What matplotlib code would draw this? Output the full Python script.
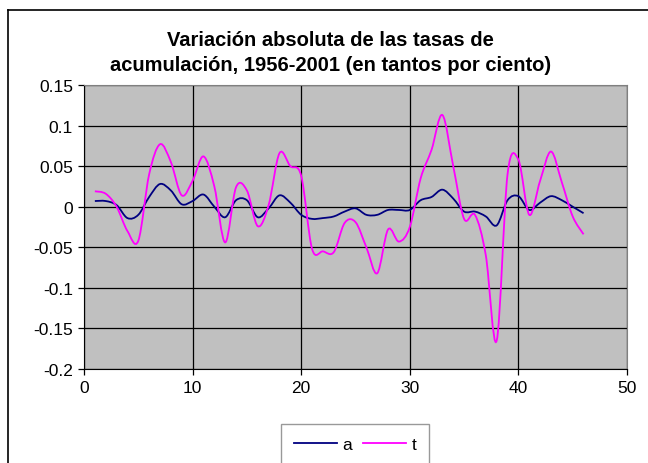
import numpy as np
import matplotlib
matplotlib.use("Agg")
import matplotlib.pyplot as plt
from matplotlib.path import Path
from matplotlib.patches import PathPatch
from matplotlib.lines import Line2D

# years index 1..46 (1956-2001)
years = list(range(1, 47))
a = [0.007, 0.007, 0.002, -0.014, -0.010, 0.012, 0.028, 0.020, 0.003, 0.007,
     0.015, 0.000, -0.013, 0.008, 0.008, -0.013, -0.002, 0.014, 0.005, -0.010,
     -0.015, -0.014, -0.012, -0.006, -0.002, -0.010, -0.010, -0.004, -0.004, -0.004,
     0.008, 0.012, 0.021, 0.010, -0.006, -0.006, -0.012, -0.023, 0.008, 0.013,
     -0.004, 0.005, 0.013, 0.008, 0.000, -0.008]
t = [0.019, 0.016, 0.000, -0.030, -0.042, 0.040, 0.077, 0.055, 0.014, 0.032,
     0.062, 0.025, -0.044, 0.024, 0.020, -0.024, 0.002, 0.066, 0.050, 0.038,
     -0.052, -0.055, -0.056, -0.020, -0.019, -0.050, -0.082, -0.028, -0.043, -0.025,
     0.035, 0.070, 0.113, 0.050, -0.015, -0.010, -0.060, -0.165, 0.040, 0.058,
     -0.010, 0.032, 0.068, 0.030, -0.012, -0.034]

title = "Variación absoluta de las tasas de\nacumulación, 1956-2001 (en tantos por ciento)"

plt.rcParams['font.family'] = ['Liberation Sans', 'DejaVu Sans']


def smooth_path(xs, ys):
    # Excel-like smoothed line: Catmull-Rom segments as cubic Bezier curves
    p = np.column_stack([xs, ys]).astype(float)
    ext = np.vstack([p[0], p, p[-1]])
    verts = [p[0]]
    codes = [Path.MOVETO]
    for i in range(1, len(ext) - 2):
        c1 = ext[i] + (ext[i + 1] - ext[i - 1]) / 6.0
        c2 = ext[i + 1] - (ext[i + 2] - ext[i]) / 6.0
        verts += [c1, c2, ext[i + 1]]
        codes += [Path.CURVE4] * 3
    return Path(verts, codes)


fig = plt.figure(figsize=(6.48, 4.64), dpi=100)
ax = fig.add_axes([84 / 648, 1 - 370 / 464, (627 - 84) / 648, (370 - 86) / 464])
ax.set_facecolor('#C0C0C0')

for xs, ys, col in [(years, a, '#000080'), (years, t, '#FF00FF')]:
    ax.add_patch(PathPatch(smooth_path(xs, ys), facecolor='none',
                           edgecolor=col, lw=1.3, zorder=3))

ax.set_xlim(0, 50)
ax.set_ylim(-0.2, 0.15)
ax.set_xticks(np.arange(0, 51, 10))
ax.set_yticks(np.arange(-0.2, 0.151, 0.05))
ax.set_yticklabels(['-0.2', '-0.15', '-0.1', '-0.05', '0', '0.05', '0.1', '0.15'])
ax.grid(True, color='black', lw=0.9)
ax.set_axisbelow(True)
ax.tick_params(labelsize=12.5, length=4, width=0.9, color='black', pad=4)
for s in ax.spines.values():
    s.set_color('#808080')
ax.spines['left'].set_color('black')
ax.spines['bottom'].set_color('black')

fig.text(0.51, 1 - 53 / 464, title, ha='center', va='center',
         fontsize=14.5, fontweight='bold', linespacing=1.35)

# outer chart frame (cut at right and bottom)
fig.add_artist(Line2D([8 / 648, 8 / 648], [0, 1 - 11 / 464], color='black', lw=1.2,
                      transform=fig.transFigure))
fig.add_artist(Line2D([8 / 648, 1], [1 - 11 / 464, 1 - 11 / 464], color='black', lw=1.2,
                      transform=fig.transFigure))

handles = [Line2D([], [], color='#000080', lw=1.3),
           Line2D([], [], color='#FF00FF', lw=1.3)]
leg = fig.legend(handles, ['a', 't'], loc='upper left',
                 bbox_to_anchor=(281 / 648, 1 - 425 / 464), borderaxespad=0,
                 ncol=2, fontsize=12.5, frameon=True, fancybox=False,
                 handlelength=2.5, handletextpad=0.3, columnspacing=0.6,
                 borderpad=0.75)
leg.get_frame().set_edgecolor('#808080')
leg.get_frame().set_linewidth(1.0)

fig.savefig('out.png', dpi=100)
